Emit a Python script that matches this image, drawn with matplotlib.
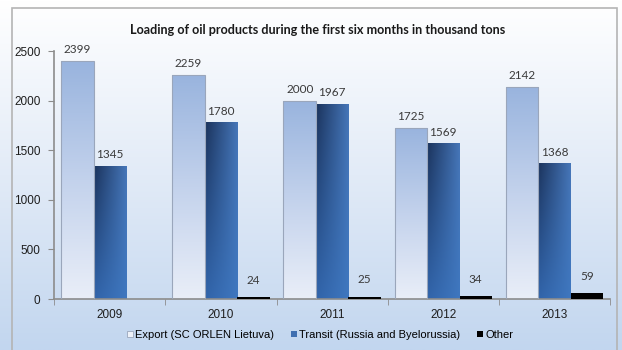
import numpy as np
import matplotlib
matplotlib.use("Agg")
import matplotlib.pyplot as plt
from matplotlib.colors import LinearSegmentedColormap
from matplotlib.patches import Rectangle, Patch

# chart data
years = ["2009", "2010", "2011", "2012", "2013"]
export_vals = [2399, 2259, 2000, 1725, 2142]
transit_vals = [1345, 1780, 1967, 1569, 1368]
other_vals = [0, 24, 25, 34, 59]
other_labels = [None, "24", "25", "34", "59"]
series_names = ["Export (SC ORLEN Lietuva)", "Transit (Russia and Byelorussia)", "Other"]
title = "Loading of oil products during the first six months in thousand tons"

W, H = 622, 350
fig = plt.figure(figsize=(W / 100, H / 100), dpi=100)

# background gradient (white at top to light blue at bottom)
bg = fig.add_axes([0, 0, 1, 1], zorder=-10)
bg_cmap = LinearSegmentedColormap.from_list("bg", ["#c2d6ef", "#e2ebf7", "#ffffff"])
bg.imshow(np.linspace(0, 1, 256).reshape(-1, 1), cmap=bg_cmap, aspect="auto",
          extent=[0, 1, 0, 1], origin="lower")
bg.set_xlim(0, 1)
bg.set_ylim(0, 1)
bg.axis("off")
fig.patches.append(Rectangle((12 / W, -0.01), (617 - 12) / W, (H - 8) / H + 0.01,
                             transform=fig.transFigure, fill=False,
                             edgecolor="#b4b4b4", linewidth=1.2, zorder=-5))

ax = fig.add_axes([54.3 / W, (H - 299) / H, (610 - 54.3) / W, (299 - 51) / H])
ax.patch.set_alpha(0)

x = np.arange(len(years))
bw = 0.292

b_exp = ax.bar(x - bw, export_vals, bw, facecolor="none", edgecolor="#9aa6bb", linewidth=0.8, zorder=3)
b_tr = ax.bar(x, transit_vals, bw, facecolor="none", edgecolor="none", zorder=3)
b_oth = ax.bar(x + bw, other_vals, bw, color="#000000", zorder=3)

exp_cmap = LinearSegmentedColormap.from_list("exp", ["#e9eef8", "#c3d2ec", "#99b4de"])
grad_v = np.linspace(0, 1, 128).reshape(-1, 1)

# transit: dark left/top to medium blue right/bottom
tl, tr_, bl, br = [np.array(matplotlib.colors.to_rgb(c)) for c in
                   ("#1b335c", "#4676b8", "#3164aa", "#3f77bf")]
u = np.linspace(0, 1, 64)[None, :, None]
v = np.linspace(0, 1, 128)[:, None, None]
top = tl * (1 - u) + tr_ * u
bot = bl * (1 - u) + br * u
tr_img = bot * (1 - v) + top * v

for bar in b_exp:
    x0, w, h = bar.get_x(), bar.get_width(), bar.get_height()
    im = ax.imshow(grad_v, cmap=exp_cmap, extent=[x0, x0 + w, 0, h], origin="lower",
                   aspect="auto", zorder=2)
    im.set_clip_path(bar)
for bar in b_tr:
    x0, w, h = bar.get_x(), bar.get_width(), bar.get_height()
    im = ax.imshow(tr_img, extent=[x0, x0 + w, 0, h], origin="lower",
                   aspect="auto", zorder=2)
    im.set_clip_path(bar)

lab_font = dict(family=["Lato", "DejaVu Sans"], fontsize=8.5, color="#3a3a3a")
for bars, vals in ((b_exp, export_vals), (b_tr, transit_vals)):
    for bar, v_ in zip(bars, vals):
        ax.annotate(str(v_), (bar.get_x() + bar.get_width() / 2, v_), xytext=(0, 4),
                    textcoords="offset points", ha="center", va="bottom", **lab_font)
for bar, v_, lab in zip(b_oth, other_vals, other_labels):
    if lab:
        ax.annotate(lab, (bar.get_x() + bar.get_width() / 2, v_), xytext=(0, 8),
                    textcoords="offset points", ha="center", va="bottom", **lab_font)

ax.set_xlim(-0.5, len(years) - 0.5)
ax.set_ylim(0, 2500)
ax.set_yticks(np.arange(0, 2501, 500))
ax.set_xticks(x)
ax.set_xticklabels(years)
ax.set_xticks(np.arange(-0.5, len(years)), minor=True)
ax.tick_params(axis="x", which="major", length=0, pad=7)
ax.tick_params(axis="x", which="minor", length=4, color="#8c8c8c")
ax.tick_params(axis="y", length=4, color="#8c8c8c", pad=6)
tick_font = ["Liberation Sans", "DejaVu Sans"]
for t in ax.get_xticklabels() + ax.get_yticklabels():
    t.set_family(tick_font)
    t.set_fontsize(8.5)
    t.set_color("#1e1e1e")
for s in ("top", "right"):
    ax.spines[s].set_visible(False)
for s in ("left", "bottom"):
    ax.spines[s].set_color("#8c8c8c")
    ax.spines[s].set_linewidth(1.2)

fig.text(318 / W, 1 - 30 / H, title, ha="center", va="center", fontsize=9.1,
         fontweight="bold", family=["Lato", "DejaVu Sans"], color="#1a1a1a")

handles = [Patch(facecolor="#eef2f9", edgecolor="#9aa6bb", linewidth=0.6),
           Patch(facecolor="#3f6fb0"),
           Patch(facecolor="#000000")]
fig.legend(handles, series_names, loc="center", bbox_to_anchor=(320 / W, 1 - 335 / H),
           ncol=3, frameon=False, handlelength=0.55, handleheight=0.55, handletextpad=0.2,
           columnspacing=1.5, prop=dict(family=tick_font, size=8))

fig.savefig("out.png", dpi=100)
